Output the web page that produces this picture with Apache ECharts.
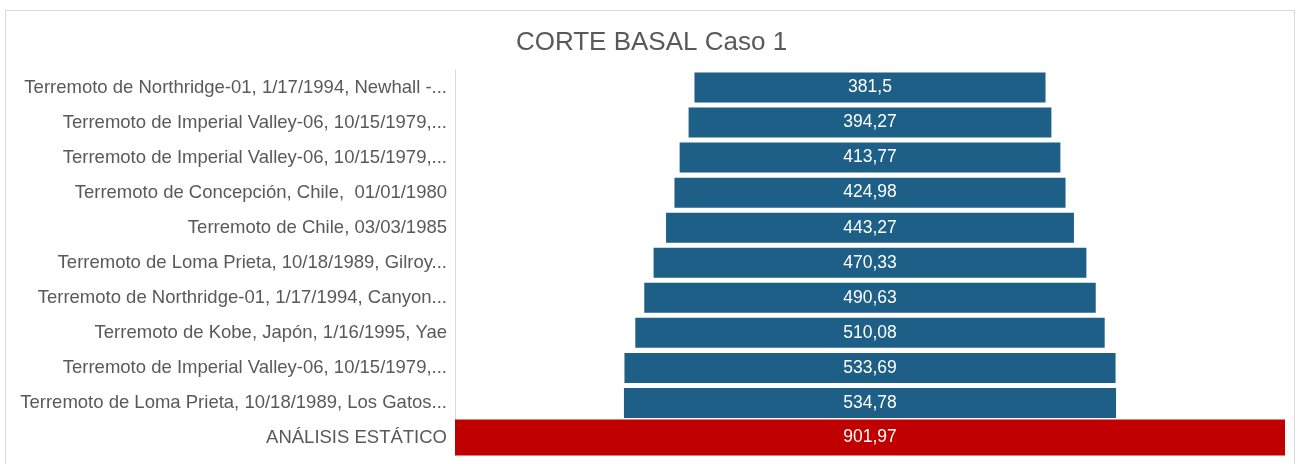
<!DOCTYPE html>
<html>
<head>
<meta charset="utf-8">
<script src="https://cdn.jsdelivr.net/npm/echarts@6/dist/echarts.min.js"></script>
<style>
  html, body { margin: 0; padding: 0; background: #ffffff; }
  #wrap { position: relative; width: 1303px; height: 464px; overflow: hidden; }
  #frame { position: absolute; left: 5px; top: 10px; width: 1290px; height: 470px; border: 1px solid #d9d9d9; box-sizing: border-box; }
  #chart { position: absolute; left: 0; top: 0; width: 1303px; height: 464px; }
</style>
</head>
<body>
<div id="wrap">
  <div id="frame"></div>
  <div id="chart"></div>
</div>
<script>
const titleText = 'CORTE BASAL Caso 1';
const categories = [
  'Terremoto de Northridge-01, 1/17/1994, Newhall -...',
  'Terremoto de Imperial Valley-06, 10/15/1979,...',
  'Terremoto de Imperial Valley-06, 10/15/1979,...',
  'Terremoto de Concepción, Chile,  01/01/1980',
  'Terremoto de Chile, 03/03/1985',
  'Terremoto de Loma Prieta, 10/18/1989, Gilroy...',
  'Terremoto de Northridge-01, 1/17/1994, Canyon...',
  'Terremoto de Kobe, Japón, 1/16/1995, Yae',
  'Terremoto de Imperial Valley-06, 10/15/1979,...',
  'Terremoto de Loma Prieta, 10/18/1989, Los Gatos...',
  'ANÁLISIS ESTÁTICO'
];
const values = [381.5, 394.27, 413.77, 424.98, 443.27, 470.33, 490.63, 510.08, 533.69, 534.78, 901.97];
const staticCategory = 'ANÁLISIS ESTÁTICO';

const maxValue = Math.max.apply(null, values);
const isStatic = categories.map(c => c === staticCategory);
const pad = values.map(v => (maxValue - v) / 2);
const blueVals = values.map((v, i) => isStatic[i] ? '-' : v);
const bluePad = pad.map((p, i) => isStatic[i] ? '-' : p);
const redVals = values.map((v, i) => isStatic[i] ? v : '-');
const redPad = pad.map((p, i) => isStatic[i] ? p : '-');

const fmt = p => String(p.value).replace('.', ',');
const sans = '"Liberation Sans", Arial, sans-serif';

const chart = echarts.init(document.getElementById('chart'), null, { renderer: 'canvas' });
chart.setOption({
  animation: false,
  backgroundColor: 'transparent',
  title: {
    text: titleText,
    left: 'center',
    top: 30,
    padding: 0,
    textStyle: { fontFamily: sans, fontSize: 26, fontWeight: 'normal', color: '#595959' }
  },
  grid: { left: 455, right: 18, top: 70, bottom: 8.5, containLabel: false },
  xAxis: {
    type: 'value', min: 0, max: maxValue, show: false,
    splitLine: { show: false }
  },
  yAxis: [
    {
      type: 'category', inverse: true, data: categories,
      axisLine: { show: true, lineStyle: { color: '#d9d9d9', width: 1 } },
      axisTick: { show: false },
      axisLabel: { margin: 8, color: '#595959', fontFamily: sans, fontSize: 18.5 }
    },
    {
      type: 'category', inverse: true, data: categories, show: false
    }
  ],
  series: [
    {
      type: 'bar', stack: 'blue', yAxisIndex: 0, barWidth: 30, silent: true,
      itemStyle: { color: 'rgba(0,0,0,0)' }, data: bluePad
    },
    {
      type: 'bar', stack: 'blue', yAxisIndex: 0, barWidth: 30,
      itemStyle: { color: '#1d5f86' },
      label: { show: true, position: 'inside', color: '#ffffff', fontFamily: sans, fontSize: 17.5, formatter: fmt },
      data: blueVals
    },
    {
      type: 'bar', stack: 'red', yAxisIndex: 1, barWidth: 37, silent: true,
      itemStyle: { color: 'rgba(0,0,0,0)' }, data: redPad
    },
    {
      type: 'bar', stack: 'red', yAxisIndex: 1, barWidth: 37,
      itemStyle: { color: '#c00000' },
      label: { show: true, position: 'inside', color: '#ffffff', fontFamily: sans, fontSize: 17.5, formatter: fmt },
      data: redVals
    }
  ]
});
</script>
</body>
</html>
